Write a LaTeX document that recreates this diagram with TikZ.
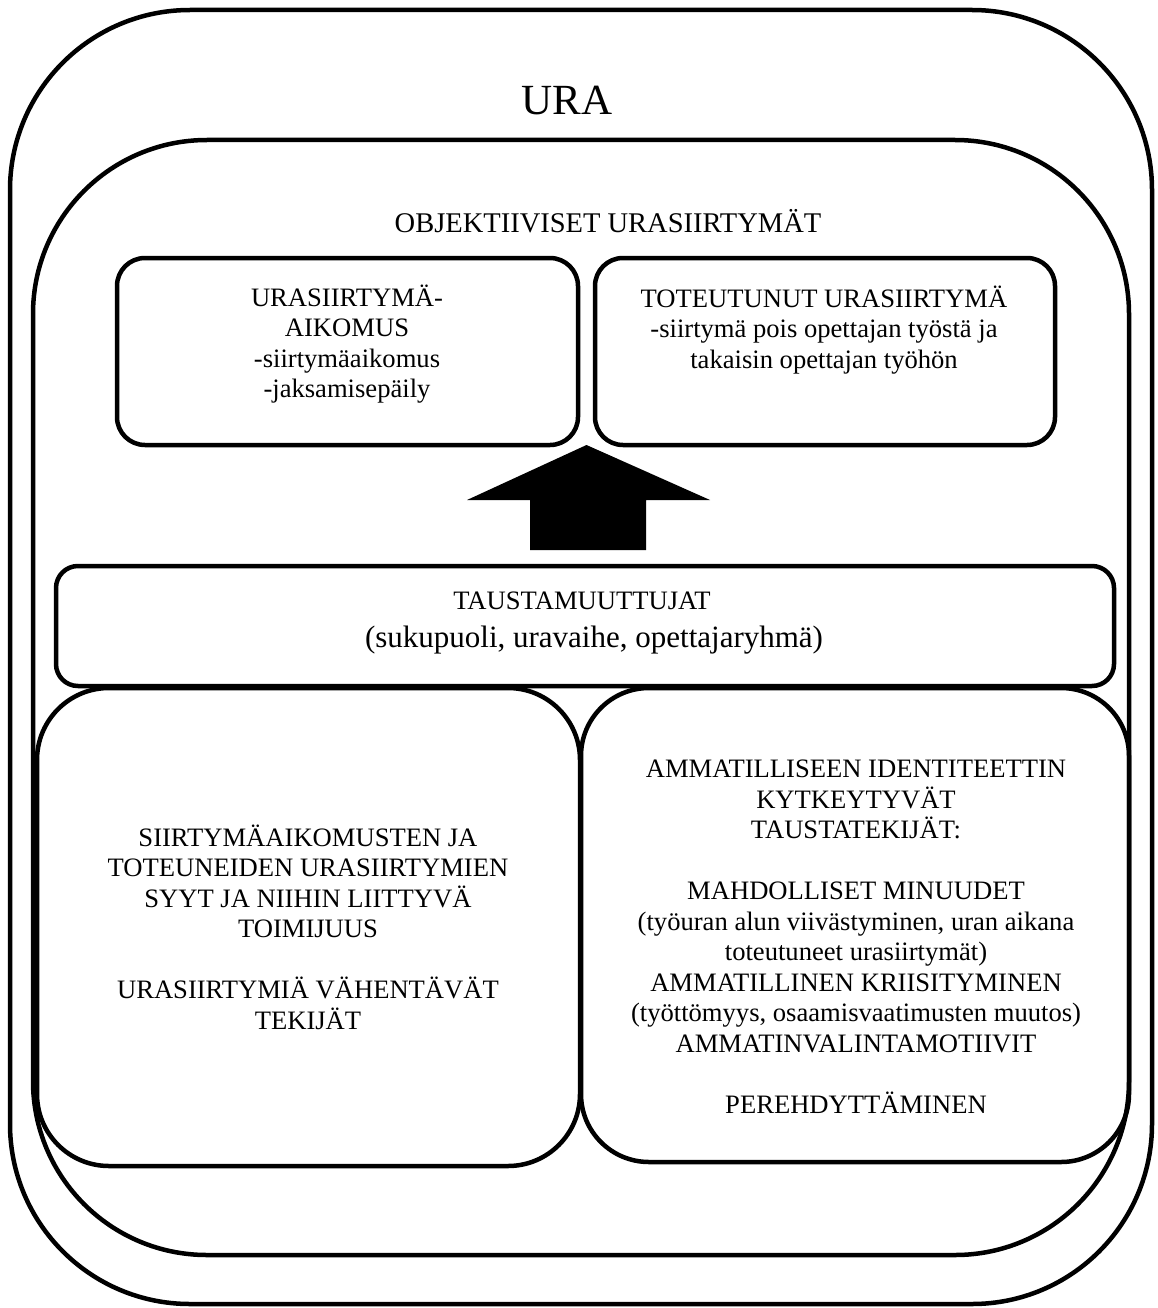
\documentclass[tikz,border=0pt]{standalone}
\usepackage{fontspec}
\setmainfont{Liberation Serif}
\usetikzlibrary{calc}
% #1 name, #2 x1, #3 y1, #4 x2, #5 y2, #6 corner radius (picture coordinates, y downwards)
\newcommand\rrbox[6]{%
  \node[boxarea, minimum width={(#4)-(#2)}, minimum height={(#5)-(#3)}] (#1) at ({((#2)+(#4))/2},{((#3)+(#5))/2}) {};
  \draw[frame] ({(#2)+(#6)},#3) -- ({(#4)-(#6)},#3) arc[start angle=-90,end angle=0,radius=#6]
    -- (#4,{(#5)-(#6)}) arc[start angle=0,end angle=90,radius=#6]
    -- ({(#2)+(#6)},#5) arc[start angle=90,end angle=180,radius=#6]
    -- (#2,{(#3)+(#6)}) arc[start angle=180,end angle=270,radius=#6] -- cycle;}
\begin{document}
\begin{tikzpicture}[x=1pt,y=-1pt,
  frame/.style={draw, line width=4.5pt, line join=round},
  boxarea/.style={draw=none, rectangle, inner sep=0pt, outer sep=0pt},
  txt/.style={font=\fontsize{26.6}{30.5}\selectfont, align=center, inner sep=0pt, anchor=base},
  arrowfill/.style={fill=black}]
\useasboundingbox (0,0) rectangle (1157,1308);
% frames
\rrbox{ura}{10}{10}{1152}{1304}{180}
\rrbox{obj}{33}{140}{1129}{1255}{174}
\rrbox{aik}{117}{258}{578}{445}{28}
\rrbox{tot}{595}{258}{1055}{445}{28}
\rrbox{tausta}{56}{566}{1114}{686}{22}
\rrbox{syyt}{37}{688}{580}{1166}{72}
\rrbox{amm}{581}{688}{1129}{1162}{68}
% texts
\node[txt, font=\fontsize{43}{48}\selectfont] (uraT) at (567,115) {URA};
\node[txt, font=\fontsize{28.5}{32}\selectfont] (objT) at (608,232) {OBJEKTIIVISET URASIIRTYMÄT};
\node[txt] (aikT) at (347,397.5) {URASIIRTYMÄ-\\AIKOMUS\\-siirtymäaikomus\\-jaksamisepäily};
\node[txt] (totT) at (824,368) {TOTEUTUNUT URASIIRTYMÄ\\-siirtymä pois opettajan työstä ja\\takaisin opettajan työhön};
\node[txt] (taustaT) at (582,609) {TAUSTAMUUTTUJAT};
\node[txt, font=\fontsize{31}{35}\selectfont] (taustaT2) at (594,647) {(sukupuoli, uravaihe, opettajaryhmä)};
\node[txt] (syytT) at (308,1029) {SIIRTYMÄAIKOMUSTEN JA\\TOTEUNEIDEN URASIIRTYMIEN\\SYYT JA NIIHIN LIITTYVÄ\\TOIMIJUUS\\[30.5pt]URASIIRTYMIÄ VÄHENTÄVÄT\\TEKIJÄT};
\node[txt] (ammT) at (856,1113) {AMMATILLISEEN IDENTITEETTIN\\KYTKEYTYVÄT\\TAUSTATEKIJÄT:\\[30.5pt]MAHDOLLISET MINUUDET\\(työuran alun viivästyminen, uran aikana\\toteutuneet urasiirtymät)\\AMMATILLINEN KRIISITYMINEN\\(työttömyys, osaamisvaatimusten muutos)\\AMMATINVALINTAMOTIIVIT\\[30.5pt]PEREHDYTTÄMINEN};
% block arrow from TAUSTAMUUTTUJAT up to the transitions
\coordinate (atip) at ($(aik.south east)!0.5!(tot.south west)$);
\coordinate (abase) at ($(tausta.north)+(3,-16)$);
\fill[arrowfill] (atip) -- ($(abase)+(-121,-50)$) -- ($(abase)+(-58,-50)$) -- ($(abase)+(-58,0)$)
  -- ($(abase)+(58,0)$) -- ($(abase)+(58,-50)$) -- ($(abase)+(122,-50)$) -- cycle;
\end{tikzpicture}
\end{document}
